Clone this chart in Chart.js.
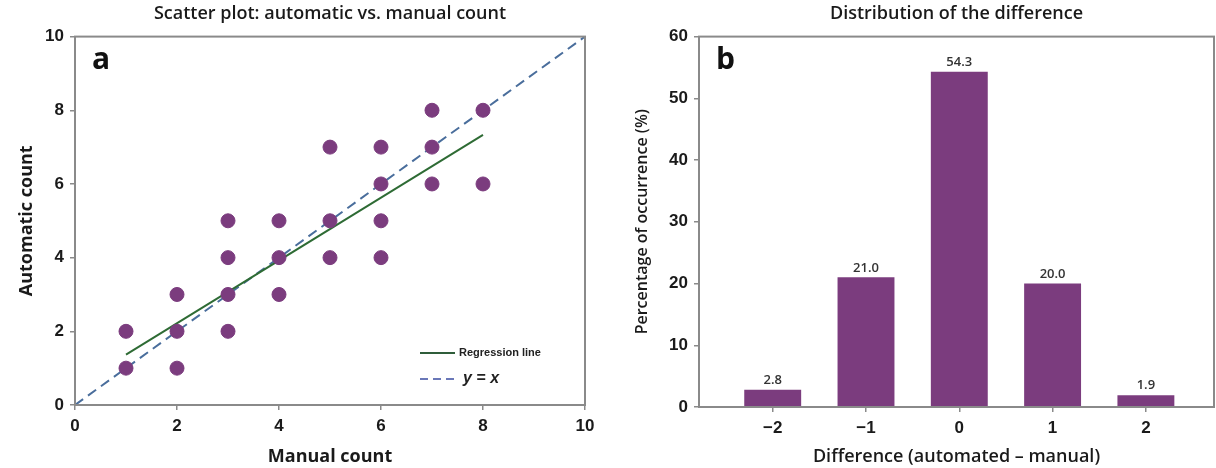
<!DOCTYPE html>
<html>
<head>
<meta charset="utf-8">
<script src="https://cdn.jsdelivr.net/npm/chart.js@4.4.1/dist/chart.umd.min.js"></script>
<style>
body { margin: 0; background: #fff; }
#wrapA { position: absolute; left: 0; top: 0; width: 605px; height: 468px; }
#wrapB { position: absolute; left: 605px; top: 0; width: 611px; height: 468px; }
</style>
</head>
<body>
<div id="wrapA"><canvas id="scatter_chart" width="605" height="468"></canvas></div>
<div id="wrapB"><canvas id="diff_chart" width="611" height="468"></canvas></div>
<script>
// panel a: manual vs automatic counts
const manualCounts = [1, 1, 2, 2, 2, 3, 3, 3, 3, 4, 4, 4, 5, 5, 5, 6, 6, 6, 6, 7, 7, 7, 8, 8];
const autoCounts   = [1, 2, 1, 2, 3, 2, 3, 4, 5, 3, 4, 5, 4, 5, 7, 4, 5, 6, 7, 6, 7, 8, 6, 8];
const regressionX = [1, 8];
const regressionY = [1.37, 7.33];
const identityX = [0, 10];
const identityY = [0, 10];

// panel b: distribution of the difference
const diffCategories = [-2, -1, 0, 1, 2];
const diffLabels = ['\u22122', '\u22121', '0', '1', '2'];
const diffPercent = [2.8, 21.0, 54.3, 20.0, 1.9];

const PURPLE = '#7b3c7e';
const AXIS_GREY = '#8a8a8a';
const TICK_FONT = { family: 'Liberation Sans', size: 17, weight: 'bold' };
const TITLE_FONT = { family: 'Open Sans', size: 18, weight: '600' };
const AXIS_TITLE_FONT = { family: 'Open Sans', size: 18, weight: '700' };

Chart.defaults.animation = false;
Chart.defaults.color = '#1a1a1a';

function toPoints(xs, ys)
{
    return xs.map((x, i) => ({ x: x, y: ys[i] }));
}

// grey frame round the plot area
const framePlugin = {
    id: 'frame',
    afterDatasetsDraw(chart) {
        const a = chart.chartArea;
        const ctx = chart.ctx;
        ctx.save();
        ctx.strokeStyle = AXIS_GREY;
        ctx.lineWidth = 2;
        ctx.strokeRect(a.left, a.top, a.right - a.left, a.bottom - a.top);
        ctx.restore();
    }
};

// big panel letter in the corner
const panelLetter = {
    id: 'panelLetter',
    afterDraw(chart, args, opts) {
        const a = chart.chartArea;
        const ctx = chart.ctx;
        ctx.save();
        ctx.font = 'bold 30px "Open Sans"';
        ctx.fillStyle = '#111';
        ctx.textBaseline = 'alphabetic';
        ctx.fillText(opts.text, a.left + 17, a.top + 32);
        ctx.restore();
    }
};

// legend sitting inside the scatter plot
const innerLegend = {
    id: 'innerLegend',
    afterDraw(chart) {
        const a = chart.chartArea;
        const ctx = chart.ctx;
        const x0 = a.left + 345, x1 = a.left + 380;
        const y0 = a.bottom - 52, y1 = a.bottom - 26;
        ctx.save();
        ctx.lineWidth = 2;
        ctx.strokeStyle = '#2f5d3a';
        ctx.beginPath(); ctx.moveTo(x0, y0); ctx.lineTo(x1, y0); ctx.stroke();
        ctx.strokeStyle = '#6a78b8';
        ctx.setLineDash([8, 5]);
        ctx.beginPath(); ctx.moveTo(x0, y1); ctx.lineTo(x1, y1); ctx.stroke();
        ctx.setLineDash([]);
        ctx.fillStyle = '#222';
        ctx.textBaseline = 'middle';
        ctx.font = 'bold 11px "Liberation Sans"';
        ctx.fillText('Regression line', x1 + 4, y0);
        ctx.font = 'italic bold 16px "Liberation Sans"';
        ctx.fillText('y = x', x1 + 8, y1);
        ctx.restore();
    }
};

// numbers over the bars
const barValues = {
    id: 'barValues',
    afterDatasetsDraw(chart) {
        const ctx = chart.ctx;
        const meta = chart.getDatasetMeta(0);
        ctx.save();
        ctx.font = '600 13px "Open Sans"';
        ctx.fillStyle = '#333';
        ctx.textAlign = 'center';
        ctx.textBaseline = 'bottom';
        meta.data.forEach((bar, i) => {
            ctx.fillText(diffPercent[i].toFixed(1), bar.x, bar.y - 3);
        });
        ctx.restore();
    }
};

function axisGrid()
{
    return { drawOnChartArea: false, drawTicks: true, tickLength: 5, offset: false, color: AXIS_GREY, lineWidth: 1.5 };
}

function InitScatter()
{
    const ctx = document.getElementById('scatter_chart').getContext('2d');
    const data = {
        datasets: [{
            label: 'counts',
            data: toPoints(manualCounts, autoCounts),
            backgroundColor: PURPLE,
            borderColor: PURPLE,
            pointRadius: 7,
            order: 0
        }, {
            label: 'Regression line',
            data: toPoints(regressionX, regressionY),
            showLine: true,
            pointRadius: 0,
            borderColor: '#2e6b34',
            borderWidth: 2,
            order: 1
        }, {
            label: 'y = x',
            data: toPoints(identityX, identityY),
            showLine: true,
            pointRadius: 0,
            borderColor: '#4a6e9c',
            borderWidth: 2,
            borderDash: [10, 6],
            order: 2
        }]
    };
    new Chart(ctx, {
        type: 'scatter',
        data: data,
        options: {
            responsive: false,
            layout: { padding: { left: 0, right: 20, top: 0, bottom: 0 } },
            plugins: {
                legend: { display: false },
                tooltip: { enabled: false },
                title: {
                    display: true,
                    text: 'Scatter plot: automatic vs. manual count',
                    font: TITLE_FONT,
                    color: '#1a1a1a',
                    fullSize: false,
                    padding: { top: 3, bottom: 12 }
                },
                panelLetter: { text: 'a' }
            },
            scales: {
                x: {
                    type: 'linear', min: 0, max: 10,
                    ticks: { stepSize: 2, font: TICK_FONT, padding: 6 },
                    grid: axisGrid(),
                    border: { color: AXIS_GREY, width: 2 },
                    title: { display: true, text: 'Manual count', font: AXIS_TITLE_FONT, padding: 0 },
                    afterFit: (scale) => { scale.height = 63; }
                },
                y: {
                    type: 'linear', min: 0, max: 10,
                    ticks: { stepSize: 2, font: TICK_FONT, padding: 6 },
                    grid: axisGrid(),
                    border: { color: AXIS_GREY, width: 2 },
                    title: { display: true, text: 'Automatic count', font: AXIS_TITLE_FONT, padding: { top: 16 } },
                    afterFit: (scale) => { scale.width = 75; }
                }
            }
        },
        plugins: [framePlugin, panelLetter, innerLegend]
    });
}

function InitBars()
{
    const ctx = document.getElementById('diff_chart').getContext('2d');
    new Chart(ctx, {
        type: 'bar',
        data: {
            datasets: [{
                label: 'Difference',
                data: toPoints(diffCategories, diffPercent),
                backgroundColor: PURPLE,
                borderColor: '#6c2f70',
                borderWidth: 0,
                categoryPercentage: 1,
                barPercentage: 0.61
            }]
        },
        options: {
            responsive: false,
            layout: { padding: { left: 0, right: 2, top: 0, bottom: 0 } },
            plugins: {
                legend: { display: false },
                tooltip: { enabled: false },
                title: {
                    display: true,
                    text: 'Distribution of the difference',
                    font: TITLE_FONT,
                    color: '#1a1a1a',
                    fullSize: false,
                    padding: { top: 3, bottom: 12 }
                },
                panelLetter: { text: 'b' }
            },
            scales: {
                x: {
                    type: 'linear', min: -2.79, max: 2.73, offset: false,
                    afterBuildTicks: (scale) => { scale.ticks = diffCategories.map(v => ({ value: v })); },
                    ticks: {
                        font: TICK_FONT, padding: 6,
                        callback: (v) => diffLabels[diffCategories.indexOf(v)]
                    },
                    grid: axisGrid(),
                    border: { color: AXIS_GREY, width: 2 },
                    title: { display: true, text: 'Difference (automated \u2013 manual)', font: { family: 'Open Sans', size: 18, weight: '600' }, padding: 0 },
                    afterFit: (scale) => { scale.height = 61; }
                },
                y: {
                    type: 'linear', min: 0, max: 60,
                    ticks: { stepSize: 10, font: TICK_FONT, padding: 6 },
                    grid: axisGrid(),
                    border: { color: AXIS_GREY, width: 2 },
                    title: { display: true, text: 'Percentage of occurrence (%)', font: { family: 'Open Sans', size: 16, weight: '600' }, padding: { top: 28 } },
                    afterFit: (scale) => { scale.width = 94; }
                }
            }
        },
        plugins: [framePlugin, panelLetter, barValues]
    });
}

InitScatter();
InitBars();
</script>
</body>
</html>
